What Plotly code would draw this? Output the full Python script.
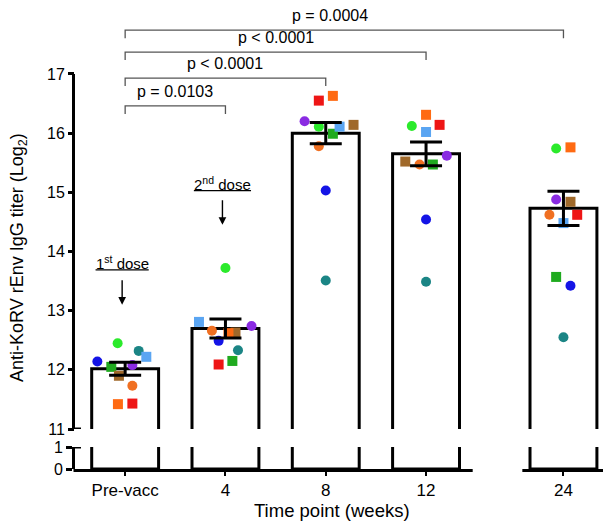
import plotly.graph_objects as go

# ---------------- data ----------------
timepoints = ["Pre-vacc", "4", "8", "12", "24"]
x_slots = [0, 1, 2, 3, 4.37]          # broken-axis slot of each time point

means = [12.02, 12.70, 16.00, 15.65, 14.73]
sems = [0.11, 0.16, 0.18, 0.20, 0.29]

# individual animals: values at each time point
blue_circle = [12.14, 12.49, 15.03, 14.54, 13.42]
lime_circle = [12.45, 13.72, 16.11, 16.12, 15.74]
teal_circle = [12.32, 12.33, 13.51, 13.49, 12.55]
purple_circle = [12.08, 12.74, 16.20, 15.62, 14.88]
orange_circle = [11.73, 12.66, 15.78, 15.47, 14.62]
green_square = [12.05, 12.15, 15.99, 15.47, 13.57]
brown_square = [11.90, 12.63, 16.14, 15.52, 14.84]
lightblue_square = [12.22, 12.81, 16.11, 16.02, 14.48]
orange_square = [11.42, 12.62, 16.63, 16.31, 15.76]
red_square = [11.43, 12.09, 16.55, 16.14, 14.62]

# horizontal scatter of each animal within a bar (in slot units)
jitter_blue = [-0.277, -0.068, 0.0, 0.0, 0.07]
jitter_lime = [-0.075, 0.0, -0.069, -0.142, -0.073]
jitter_teal = [0.135, 0.125, 0.0, 0.0, 0.0]
jitter_purple = [0.072, 0.26, -0.211, 0.207, -0.073]
jitter_orange_c = [0.072, -0.135, -0.069, -0.065, -0.14]
jitter_green = [-0.138, 0.069, 0.071, 0.068, -0.073]
jitter_brown = [-0.062, 0.10, 0.277, -0.207, 0.07]
jitter_lightblue = [0.211, -0.264, 0.138, 0.0, 0.0]
jitter_orange_s = [-0.072, 0.03, 0.071, 0.0, 0.07]
jitter_red = [0.072, -0.068, -0.069, 0.135, 0.137]

comparisons = [("Pre-vacc", "4", "p = 0.0103"),
               ("Pre-vacc", "8", "p < 0.0001"),
               ("Pre-vacc", "12", "p < 0.0001"),
               ("Pre-vacc", "24", "p = 0.0004")]

# ---------------- layout geometry ----------------
# (the page body adds an 8px offset, so everything is placed 8px up/left)
W, H = 611, 526
ML, MR, MT, MB = 67, 0, 0, 65
PW, PH = W - ML - MR, H - MT - MB
SLOT_PX = 100.3
X_RANGE = [-0.5, -0.5 + PW / SLOT_PX]
UNIT_PX = 59.17
LOW_H = 22           # px of the 0..1 segment
GAP_BOTTOM = 40      # px from plot bottom to the value 11
Y2_RANGE = [11, 11 + (PH - GAP_BOTTOM) / UNIT_PX]
FONT = "Liberation Sans"

def xpaper(v):
    return (v - X_RANGE[0]) / (X_RANGE[1] - X_RANGE[0])

animals = [
    (blue_circle, jitter_blue, "#1414E6", "circle"),
    (lime_circle, jitter_lime, "#2BEA2B", "circle"),
    (teal_circle, jitter_teal, "#1B8585", "circle"),
    (purple_circle, jitter_purple, "#8A2BE2", "circle"),
    (orange_circle, jitter_orange_c, "#F07022", "circle"),
    (green_square, jitter_green, "#1FAA1F", "square"),
    (brown_square, jitter_brown, "#A0692A", "square"),
    (lightblue_square, jitter_lightblue, "#5AA5F2", "square"),
    (orange_square, jitter_orange_s, "#FF6A12", "square"),
    (red_square, jitter_red, "#EE1515", "square"),
]

fig = go.Figure()

# bars in both panels of the broken y axis
for ya in ["y", "y2"]:
    fig.add_trace(go.Bar(x=x_slots, y=means, width=0.667, yaxis=ya,
                         marker=dict(color="white", line=dict(color="black", width=3)),
                         showlegend=False, hoverinfo="skip"))

for vals, jit, col, sym in animals:
    fig.add_trace(go.Scatter(
        x=[s + j for s, j in zip(x_slots, jit)], y=vals, yaxis="y2",
        mode="markers", marker=dict(color=col, symbol=sym, size=10, line=dict(width=0)),
        showlegend=False))

fig.add_trace(go.Scatter(
    x=x_slots, y=means, yaxis="y2", mode="markers",
    marker=dict(size=1, color="rgba(0,0,0,0)"),
    error_y=dict(type="data", array=sems, visible=True, color="black", thickness=3, width=16),
    showlegend=False))

shapes = []
lw = 1.5 / PW
# upper y-axis line (11..17) + break caps
shapes.append(dict(type="line", xref="paper", yref="y2", x0=-lw, x1=-lw, y0=11, y1=17,
                   line=dict(color="black", width=3)))
shapes.append(dict(type="line", xref="paper", yref="y2", x0=-lw, x1=6 / PW, y0=11, y1=11,
                   line=dict(color="black", width=3)))
shapes.append(dict(type="line", xref="paper", yref="y", x0=-lw, x1=6 / PW, y0=1, y1=1,
                   line=dict(color="black", width=3)))
# broken x-axis line
yb = -1.5 / PH
shapes.append(dict(type="line", xref="paper", yref="paper", x0=-lw, x1=xpaper(3.465), y0=yb, y1=yb,
                   line=dict(color="black", width=3)))
shapes.append(dict(type="line", xref="paper", yref="paper", x0=xpaper(3.96), x1=1.0, y0=yb, y1=yb,
                   line=dict(color="black", width=3)))

annotations = []
# significance brackets
bracket_y = [16.46, 16.93, 17.37, 17.74]
drop = 0.135
for (a, b, txt), by in zip(comparisons, bracket_y):
    xa = x_slots[timepoints.index(a)]
    xb = x_slots[timepoints.index(b)]
    shapes.append(dict(type="path", xref="x", yref="y2",
                       path=f"M{xa},{by - drop} L{xa},{by} L{xb},{by} L{xb},{by - drop}",
                       line=dict(color="#555555", width=1.3)))
    xm = (xa + xb) / 2
    if b == "24":
        xm -= 0.14
    annotations.append(dict(x=xm, y=by + 0.25, xref="x", yref="y2", text=txt, showarrow=False,
                            font=dict(family=FONT, size=16, color="black")))

# dose markers: (time point, label, underline y, arrow tip y, underline half-width)
doses = [("Pre-vacc", "1<sup>st</sup> dose", 13.69, 13.10, 0.265),
         ("4", "2<sup>nd</sup> dose", 15.03, 14.45, 0.285)]
for tp, txt, uy, tip, half in doses:
    xs = x_slots[timepoints.index(tp)] - 0.03
    annotations.append(dict(x=xs, y=uy, xref="x", yref="y2", text=txt, showarrow=False,
                            yanchor="bottom", yshift=-4,
                            font=dict(family=FONT, size=15, color="black")))
    shapes.append(dict(type="line", xref="x", yref="y2", x0=xs - half, x1=xs + half,
                       y0=uy, y1=uy, line=dict(color="black", width=1.2)))
    annotations.append(dict(x=xs, y=tip, xref="x", yref="y2", ax=0, ay=-26, text="",
                            showarrow=True, arrowhead=2, arrowsize=1.1, arrowwidth=1.4,
                            arrowcolor="black"))

# axis titles
annotations.append(dict(x=(10 - ML) / PW, y=(PH - 250) / PH, xref="paper", yref="paper",
                        xanchor="center", yanchor="middle",
                        text="Anti-KoRV rEnv IgG titer (Log<sub>2</sub>)", textangle=-90,
                        showarrow=False, font=dict(family=FONT, size=18, color="black")))
annotations.append(dict(x=(324 - ML) / PW, y=(PH - 503) / PH, xref="paper", yref="paper",
                        xanchor="center", yanchor="middle",
                        text="Time point (weeks)", showarrow=False,
                        font=dict(family=FONT, size=18.5, color="black")))

fig.update_layout(
    width=W, height=H, margin=dict(l=ML, r=MR, t=MT, b=MB, autoexpand=False),
    paper_bgcolor="white", plot_bgcolor="white", barmode="overlay",
    font=dict(family=FONT, color="black"),
    xaxis=dict(range=X_RANGE, anchor="y", tickvals=x_slots, ticktext=timepoints,
               ticks="outside", ticklen=6, tickwidth=2, tickcolor="black",
               showline=False, showgrid=False, zeroline=False, automargin=False,
               tickfont=dict(size=17, color="black")),
    yaxis=dict(domain=[0, LOW_H / PH], range=[0, 1], tickvals=[0, 1], anchor="x",
               ticks="outside", ticklen=6, tickwidth=3, tickcolor="black",
               showline=True, linewidth=3, linecolor="black", automargin=False,
               showgrid=False, zeroline=False, tickfont=dict(size=16, color="black")),
    yaxis2=dict(domain=[GAP_BOTTOM / PH, 1], range=Y2_RANGE, tickvals=[11, 12, 13, 14, 15, 16, 17],
                anchor="x", ticks="outside", ticklen=6, tickwidth=3, tickcolor="black",
                showline=False, showgrid=False, zeroline=False, automargin=False,
                tickfont=dict(size=16, color="black")),
    shapes=shapes, annotations=annotations, showlegend=False,
)

fig.write_html("out.html")
